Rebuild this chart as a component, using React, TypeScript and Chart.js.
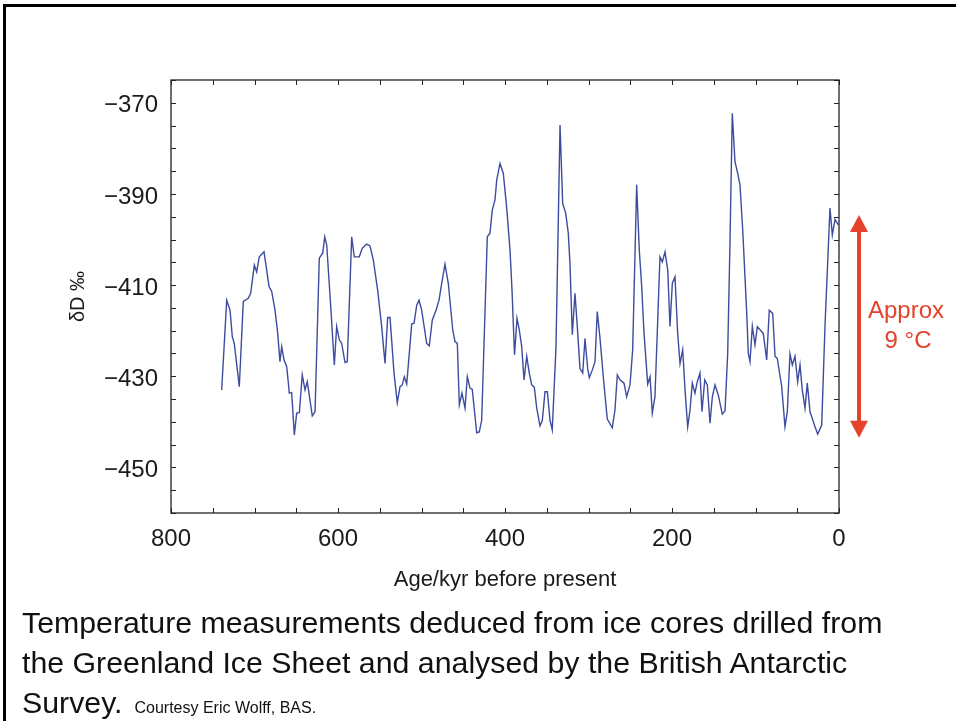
import React, { useEffect, useRef } from "react";
import { Chart, registerables } from "chart.js";

Chart.register(...registerables);

// Age (kyr before present) of each traced sample
const ageKyr: number[] = [
  739.3, 733.3, 729.3, 726.6, 724.2, 718.2, 713.4, 707.4, 704.6, 700.2,
  697.4, 694.3, 688.6, 685.4, 682.6, 679.4, 675.4, 672.2, 669.5, 667.4,
  664.7, 661.4, 658.3, 655.5, 652.3, 649.5, 646.3, 642.8, 639.5, 636.8,
  630.8, 627.5, 622.4, 618.3, 615.9, 613.5, 608.7, 604.4, 601.6, 598.4,
  595.6, 591.6, 588.9, 583.6, 580.5, 574.5, 570.9, 565.6, 561.7, 557.7,
  552.5, 547.7, 543.7, 540.5, 537.7, 532.9, 529.0, 525.7, 523.0, 520.6,
  517.7, 511.7, 509.0, 505.7, 503.0, 499.8, 493.8, 490.7, 487.1, 482.6,
  479.0, 475.8, 471.9, 467.9, 462.6, 459.9, 457.1, 454.7, 451.5, 447.9,
  445.1, 441.9, 439.2, 433.9, 430.8, 427.9, 421.2, 418.0, 415.2, 412.0,
  409.9, 406.0, 402.0, 398.0, 394.0, 391.6, 388.6, 385.6, 382.9, 380.0,
  377.2, 374.0, 370.9, 368.0, 364.9, 362.0, 358.1, 355.3, 352.1, 349.3,
  346.1, 343.4, 338.9, 334.1, 330.9, 327.3, 324.2, 322.2, 319.4, 316.2,
  313.4, 310.2, 306.9, 304.2, 301.0, 299.0, 295.4, 292.2, 289.5, 286.2,
  282.3, 277.5, 271.5, 268.3, 265.5, 262.3, 257.5, 254.3, 250.3, 247.1,
  242.3, 239.2, 236.3, 233.5, 229.1, 226.3, 223.6, 220.4, 214.4, 211.6,
  208.4, 205.1, 202.4, 199.6, 196.4, 193.2, 190.4, 187.2, 184.4, 181.2,
  178.4, 175.7, 172.5, 169.7, 166.5, 164.1, 160.8, 157.7, 154.5, 151.7,
  148.5, 144.6, 139.8, 136.5, 133.3, 130.5, 127.8, 124.6, 121.3, 118.6,
  115.3, 110.5, 108.6, 106.6, 103.8, 100.6, 97.8, 94.6, 90.7, 86.6,
  83.5, 79.4, 76.6, 73.9, 68.6, 64.7, 61.9, 58.7, 55.9, 52.7,
  49.5, 46.7, 44.0, 40.7, 38.0, 34.7, 28.7, 25.5, 20.7, 16.8,
  10.8, 8.0, 4.8, 0.8,
];

// deltaD (per mil) for each sample
const deltaD: number[] = [
  -433.0, -413.3, -415.5, -421.3, -422.8, -432.3, -413.6, -412.9, -411.8, -405.6,
  -407.1, -403.8, -402.7, -406.7, -410.3, -411.4, -415.5, -420.6, -426.8, -423.5,
  -426.4, -427.9, -433.7, -433.6, -442.9, -438.1, -438.0, -429.7, -433.0, -431.2,
  -438.7, -437.8, -404.1, -403.0, -399.4, -401.2, -414.7, -427.5, -419.1, -422.0,
  -422.8, -427.0, -426.8, -399.4, -403.8, -403.8, -401.9, -401.0, -401.4, -404.5,
  -411.1, -419.1, -427.2, -417.1, -417.1, -429.3, -435.8, -432.3, -431.9, -430.1,
  -431.7, -418.5, -418.4, -414.4, -413.3, -415.5, -422.8, -423.3, -417.7, -415.5,
  -413.3, -409.6, -405.4, -409.6, -419.8, -422.4, -422.8, -436.3, -433.7, -437.0,
  -430.1, -432.6, -432.9, -442.4, -442.2, -439.6, -399.4, -398.6, -393.5, -391.3,
  -386.9, -383.3, -385.5, -393.0, -402.3, -411.1, -425.3, -417.3, -419.8, -423.5,
  -430.8, -425.6, -429.3, -431.9, -432.4, -437.0, -440.9, -439.7, -433.4, -433.4,
  -439.6, -441.8, -423.5, -374.9, -392.1, -394.2, -398.6, -405.2, -420.9, -411.8,
  -419.1, -428.3, -429.3, -421.7, -428.3, -430.3, -428.6, -426.8, -415.8, -421.7,
  -430.1, -439.4, -441.3, -437.4, -429.7, -430.8, -431.5, -434.5, -431.9, -424.2,
  -388.0, -402.3, -410.3, -420.6, -431.7, -430.1, -438.1, -434.5, -403.8, -404.9,
  -402.7, -406.7, -419.1, -409.6, -408.2, -420.6, -427.2, -424.2, -433.0, -441.1,
  -437.4, -431.5, -433.7, -431.2, -429.3, -437.8, -430.8, -431.9, -440.3, -434.5,
  -431.9, -434.1, -438.3, -437.6, -425.0, -400.1, -372.3, -382.9, -385.5, -388.0,
  -397.9, -416.2, -425.0, -426.8, -419.0, -423.1, -419.1, -419.8, -420.6, -426.4,
  -415.5, -416.2, -425.6, -426.1, -432.3, -441.1, -437.8, -425.1, -427.5, -425.6,
  -431.2, -427.5, -433.0, -437.0, -431.5, -437.8, -441.1, -442.7, -440.7, -419.1,
  -393.1, -399.0, -395.6, -396.8,
];

const yTickValues: number[] = [-450, -430, -410, -390, -370];
const yMinorTicks: number[] = [
  -460, -455, -450, -445, -440, -435, -430, -425, -420, -415, -410, -405, -400,
  -395, -390, -385, -380, -375, -370, -365,
];
const xTickValues: number[] = [0, 200, 400, 600, 800];
const xMinorTicks: number[] = [
  0, 50, 100, 150, 200, 250, 300, 350, 400, 450, 500, 550, 600, 650, 700, 750, 800,
];
// span of the "Approx 9 °C" arrow, in deltaD units
const arrowSpan: number[] = [-394.6, -443.5];
const arrowLabel: string[] = ["Approx", "9 \u00B0C"];

const FONT = "'Liberation Sans', Arial, Helvetica, sans-serif";
const RED = "#e4422a";

const framePlugin = {
  id: "frameAndArrow",
  afterDatasetsDraw(chart: any) {
    const { ctx, chartArea: a, scales } = chart;
    const xs = scales.x;
    const ys = scales.y;
    ctx.save();
    // plot frame
    ctx.strokeStyle = "#222";
    ctx.lineWidth = 1.3;
    ctx.strokeRect(a.left, a.top, a.right - a.left, a.bottom - a.top);
    // inward ticks on all four sides
    ctx.lineWidth = 1;
    ctx.beginPath();
    for (const v of xMinorTicks) {
      const px = Math.round(xs.getPixelForValue(v)) + 0.5;
      ctx.moveTo(px, a.bottom);
      ctx.lineTo(px, a.bottom - 5);
      ctx.moveTo(px, a.top);
      ctx.lineTo(px, a.top + 5);
    }
    for (const v of yMinorTicks) {
      const py = Math.round(ys.getPixelForValue(v)) + 0.5;
      ctx.moveTo(a.left, py);
      ctx.lineTo(a.left + 5, py);
      ctx.moveTo(a.right, py);
      ctx.lineTo(a.right - 5, py);
    }
    ctx.stroke();

    // red double-headed arrow
    const ax = a.right + 20;
    const yTop = ys.getPixelForValue(arrowSpan[0]);
    const yBot = ys.getPixelForValue(arrowSpan[1]);
    const headH = 17;
    const headW = 9;
    ctx.strokeStyle = RED;
    ctx.fillStyle = RED;
    ctx.lineWidth = 4;
    ctx.beginPath();
    ctx.moveTo(ax, yTop + headH - 2);
    ctx.lineTo(ax, yBot - headH + 2);
    ctx.stroke();
    ctx.beginPath();
    ctx.moveTo(ax, yTop);
    ctx.lineTo(ax - headW, yTop + headH);
    ctx.lineTo(ax + headW, yTop + headH);
    ctx.closePath();
    ctx.fill();
    ctx.beginPath();
    ctx.moveTo(ax, yBot);
    ctx.lineTo(ax - headW, yBot - headH);
    ctx.lineTo(ax + headW, yBot - headH);
    ctx.closePath();
    ctx.fill();

    const mid = (yTop + yBot) / 2;
    ctx.font = `24px ${FONT}`;
    ctx.textAlign = "center";
    ctx.textBaseline = "alphabetic";
    ctx.fillText(arrowLabel[0], a.right + 67, mid - 8.5);
    ctx.fillText(arrowLabel[1], a.right + 69, mid + 21.5);
    ctx.restore();
  },
};

export default function App() {
  const canvasRef = useRef<HTMLCanvasElement | null>(null);

  useEffect(() => {
    const canvas = canvasRef.current;
    if (!canvas) return;
    const points = ageKyr.map((age, i) => ({ x: age, y: deltaD[i] }));
    const chart = new Chart(canvas, {
      type: "line",
      data: {
        datasets: [
          {
            data: points,
            borderColor: "#3d4c9f",
            borderWidth: 1.4,
            pointRadius: 0,
            tension: 0,
            fill: false,
          },
        ],
      },
      options: {
        responsive: false,
        animation: false,
        devicePixelRatio: 1,
        parsing: false,
        layout: { padding: { left: 0, top: 80, right: 117, bottom: 0 } },
        plugins: { legend: { display: false }, tooltip: { enabled: false } },
        scales: {
          x: {
            type: "linear",
            reverse: true,
            min: 0,
            max: 800,
            afterFit: (s: any) => {
              s.height = 208;
            },
            afterBuildTicks: (s: any) => {
              s.ticks = xTickValues.map((v) => ({ value: v }));
            },
            grid: { display: false, drawTicks: false },
            border: { display: false },
            ticks: {
              padding: 12,
              color: "#1a1a1a",
              font: { family: FONT, size: 24 },
              maxRotation: 0,
            },
            title: {
              display: true,
              text: "Age/kyr before present",
              color: "#1a1a1a",
              font: { family: FONT, size: 22 },
              padding: { top: 0, bottom: 128 },
            },
          },
          y: {
            type: "linear",
            min: -460,
            max: -365,
            afterFit: (s: any) => {
              s.width = 171;
            },
            afterBuildTicks: (s: any) => {
              s.ticks = yTickValues.map((v) => ({ value: v }));
            },
            grid: { display: false, drawTicks: false },
            border: { display: false },
            ticks: {
              padding: 13,
              labelOffset: 3,
              color: "#1a1a1a",
              font: { family: FONT, size: 24 },
              callback: (v: any) => "\u2212" + Math.abs(Number(v)),
            },
            title: {
              display: true,
              text: "\u03B4D \u2030",
              color: "#1a1a1a",
              font: { family: FONT, size: 20 },
              padding: { top: 66, bottom: 0 },
            },
          },
        },
      },
      plugins: [framePlugin],
    });
    return () => chart.destroy();
  }, []);

  return (
    <div
      style={{
        position: "fixed",
        left: 0,
        top: 0,
        width: 956,
        height: 721,
        background: "#fff",
        overflow: "hidden",
      }}
    >
      <div
        style={{
          position: "absolute",
          left: 3,
          top: 4,
          width: 960,
          height: 730,
          borderTop: "3px solid #000",
          borderLeft: "3px solid #000",
          boxSizing: "border-box",
        }}
      />
      <canvas
        ref={canvasRef}
        width={956}
        height={721}
        style={{ position: "absolute", left: 0, top: 0, width: 956, height: 721 }}
      />
      <div
        style={{
          position: "absolute",
          left: 22,
          top: 603,
          fontFamily: FONT,
          fontSize: 30.3,
          lineHeight: "40px",
          color: "#111",
          whiteSpace: "nowrap",
        }}
      >
        <div>Temperature measurements deduced from ice cores drilled from</div>
        <div>the Greenland Ice Sheet and analysed by the British Antarctic</div>
        <div>
          Survey.
          <span style={{ fontSize: 16, marginLeft: 12 }}>Courtesy Eric Wolff, BAS.</span>
        </div>
      </div>
    </div>
  );
}
